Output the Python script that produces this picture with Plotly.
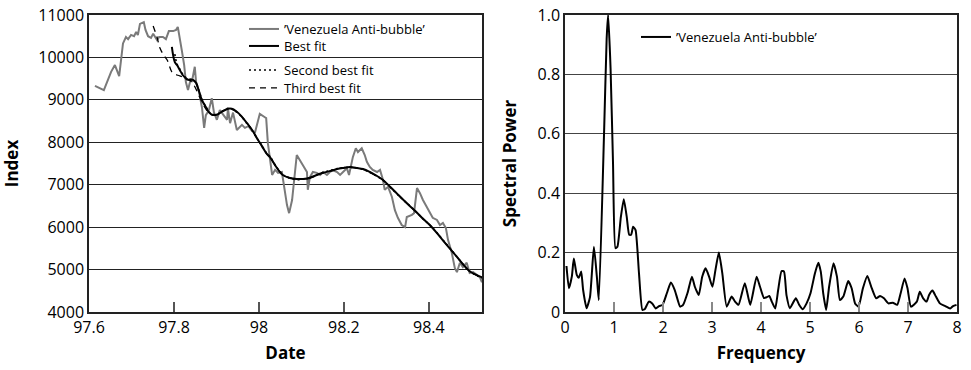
import plotly.graph_objects as go

# Venezuela index (left panel)
index_dates = [
    97.614, 97.635, 97.652, 97.661, 97.671, 97.680, 97.687, 97.692, 97.699, 97.706,
    97.711, 97.715, 97.720, 97.729, 97.733, 97.739, 97.746, 97.751, 97.760, 97.765,
    97.774, 97.781, 97.788, 97.798, 97.805, 97.809, 97.819, 97.824, 97.828, 97.833,
    97.840, 97.842, 97.849, 97.852, 97.859, 97.866, 97.871, 97.875, 97.882, 97.889,
    97.894, 97.901, 97.908, 97.925, 97.927, 97.932, 97.939, 97.948, 97.960, 97.967,
    97.975, 97.984, 97.991, 98.002, 98.014, 98.017, 98.021, 98.026, 98.031, 98.038,
    98.045, 98.054, 98.059, 98.066, 98.071, 98.078, 98.089, 98.096, 98.104, 98.113,
    98.115, 98.120, 98.127, 98.136, 98.144, 98.151, 98.160, 98.167, 98.174, 98.184,
    98.191, 98.198, 98.207, 98.212, 98.221, 98.228, 98.233, 98.242, 98.249, 98.254,
    98.261, 98.268, 98.278, 98.285, 98.292, 98.296, 98.304, 98.313, 98.320, 98.327,
    98.336, 98.344, 98.348, 98.360, 98.365, 98.372, 98.379, 98.386, 98.395, 98.402,
    98.409, 98.419, 98.426, 98.433, 98.440, 98.445, 98.454, 98.461, 98.466, 98.473,
    98.480, 98.489, 98.496, 98.504, 98.513, 98.520, 98.525,
]
index_values = [
    9330, 9230, 9660, 9820, 9560, 10330, 10480, 10430, 10530, 10500,
    10600, 10530, 10790, 10830, 10650, 10500, 10460, 10560, 10410, 10480,
    10480, 10430, 10620, 10620, 10650, 10720, 10130, 9820, 9420, 9230,
    9510, 9420, 9780, 9420, 9190, 8810, 8340, 8640, 8750, 9040,
    8710, 8530, 8760, 8530, 8800, 8450, 8700, 8290, 8410, 8340,
    8380, 8260, 8240, 8670, 8590, 8570, 7980, 7580, 7230, 7350,
    7280, 7300, 6950, 6520, 6330, 6640, 7700, 7580, 7420, 7300,
    6880, 7180, 7300, 7280, 7230, 7300, 7230, 7300, 7340, 7300,
    7230, 7300, 7390, 7230, 7650, 7860, 7770, 7860, 7700, 7540,
    7420, 7350, 7300, 7350, 7110, 6880, 6950, 6710, 6400, 6220,
    6050, 6000, 6240, 6290, 6330, 6920, 6800, 6640, 6480, 6330,
    6220, 6170, 6050, 6100, 5980, 5700, 5390, 5040, 4940, 5160,
    5060, 5160, 4920, 4940, 4870, 4820, 4700,
]

fit_dates = [
    97.795, 97.802, 97.807, 97.814, 97.821, 97.831, 97.838, 97.845, 97.852, 97.859,
    97.866, 97.875, 97.882, 97.889, 97.901, 97.913, 97.927, 97.936, 97.948, 97.960,
    97.972, 97.984, 97.995, 98.007, 98.019, 98.026, 98.042, 98.056, 98.073, 98.089,
    98.104, 98.120, 98.136, 98.151, 98.167, 98.184, 98.198, 98.214, 98.231, 98.245,
    98.261, 98.278, 98.292, 98.308, 98.325, 98.339, 98.355, 98.372, 98.386, 98.402,
    98.419, 98.433, 98.449, 98.466, 98.480, 98.496, 98.513, 98.527,
]
best_fit = [
    10250, 9890, 9820, 9700, 9580, 9480, 9470, 9470, 9400, 9200,
    8990, 8830, 8710, 8650, 8650, 8720, 8790, 8790, 8720, 8600,
    8450, 8290, 8100, 7910, 7720, 7650, 7400, 7230, 7160, 7135,
    7135, 7160, 7230, 7280, 7320, 7370, 7395, 7415, 7395, 7370,
    7300, 7205, 7110, 6960, 6790, 6650, 6500, 6340, 6200, 6050,
    5860, 5690, 5500, 5300, 5130, 4960, 4870, 4810,
]
second_dates = fit_dates[1:]
second_fit = [
    10080, 9850, 9720, 9600, 9500, 9480, 9460, 9390, 9210,
    9010, 8840, 8720, 8660, 8660, 8730, 8800, 8790, 8710, 8590,
    8440, 8280, 8100, 7920, 7730, 7660, 7410, 7240, 7150, 7120,
    7130, 7160, 7230, 7290, 7330, 7380, 7400, 7410, 7390, 7360,
    7290, 7200, 7100, 6950, 6780, 6650, 6500, 6340, 6200, 6050,
    5870, 5700, 5510, 5300, 5130, 4960, 4860, 4790,
]
third_dates = [
    97.751, 97.760, 97.767, 97.776, 97.784, 97.795, 97.802, 97.809, 97.826, 97.842,
    97.852, 97.861, 97.871, 97.880, 97.889, 97.901, 97.913, 97.927, 97.936, 97.948,
    97.960, 97.972, 97.984, 97.995, 98.007, 98.019, 98.026, 98.042, 98.056, 98.073,
    98.089, 98.104, 98.120, 98.136, 98.151, 98.167, 98.184, 98.198, 98.214, 98.231,
    98.245, 98.261, 98.278, 98.292, 98.308, 98.325, 98.339, 98.355, 98.372, 98.386,
    98.402, 98.419, 98.433, 98.449, 98.466, 98.480, 98.496, 98.513, 98.527,
]
third_fit = [
    10740, 10480, 10220, 10050, 9940, 9660, 9610, 9580, 9520, 9420,
    9250, 9050, 8850, 8720, 8660, 8660, 8730, 8790, 8780, 8710,
    8600, 8450, 8290, 8100, 7910, 7720, 7650, 7400, 7230, 7160,
    7140, 7140, 7170, 7230, 7280, 7320, 7370, 7400, 7410, 7390,
    7360, 7290, 7200, 7110, 6960, 6790, 6650, 6500, 6340, 6200,
    6050, 5860, 5690, 5500, 5300, 5130, 4960, 4860, 4790,
]

# Lomb spectrum (right panel)
freq = [
    0.03, 0.08, 0.14, 0.18, 0.24, 0.28, 0.33, 0.37, 0.44, 0.51,
    0.59, 0.65, 0.69, 0.80, 0.85, 0.88, 0.93, 0.98, 1.03, 1.07,
    1.14, 1.20, 1.26, 1.31, 1.35, 1.39, 1.44, 1.51, 1.58, 1.63,
    1.71, 1.78, 1.85, 1.92, 1.99, 2.08, 2.16, 2.24, 2.35, 2.41,
    2.50, 2.59, 2.65, 2.73, 2.80, 2.87, 2.94, 3.01, 3.07, 3.14,
    3.21, 3.30, 3.40, 3.47, 3.54, 3.67, 3.78, 3.91, 3.98, 4.06,
    4.12, 4.17, 4.22, 4.29, 4.35, 4.42, 4.47, 4.52, 4.59, 4.71,
    4.78, 4.85, 4.93, 5.01, 5.10, 5.17, 5.22, 5.27, 5.33, 5.39,
    5.48, 5.55, 5.61, 5.68, 5.78, 5.85, 5.92, 5.99, 6.08, 6.17,
    6.26, 6.35, 6.43, 6.51, 6.60, 6.69, 6.78, 6.85, 6.93, 6.99,
    7.06, 7.18, 7.24, 7.31, 7.38, 7.43, 7.50, 7.57, 7.65, 7.76,
    7.86, 7.92, 7.99,
]
power = [
    0.155, 0.08, 0.12, 0.18, 0.125, 0.115, 0.136, 0.074, 0.013, 0.05,
    0.22, 0.119, 0.04, 0.62, 0.92, 1.0, 0.82, 0.50, 0.215, 0.22,
    0.32, 0.38, 0.32, 0.26, 0.26, 0.287, 0.276, 0.13, 0.007, 0.01,
    0.035, 0.029, 0.012, 0.02, 0.024, 0.064, 0.099, 0.074, 0.018, 0.024,
    0.064, 0.119, 0.085, 0.057, 0.119, 0.147, 0.119, 0.085, 0.141, 0.20,
    0.131, 0.018, 0.052, 0.035, 0.024, 0.097, 0.024, 0.119, 0.085, 0.047,
    0.05, 0.054, 0.035, 0.012, 0.074, 0.138, 0.136, 0.057, 0.013, 0.046,
    0.024, 0.009, 0.029, 0.063, 0.13, 0.166, 0.136, 0.063, 0.007, 0.085,
    0.164, 0.119, 0.04, 0.052, 0.104, 0.08, 0.029, 0.018, 0.08, 0.121,
    0.08, 0.046, 0.054, 0.046, 0.029, 0.031, 0.024, 0.063, 0.113, 0.08,
    0.018, 0.035, 0.068, 0.046, 0.035, 0.057, 0.072, 0.052, 0.029, 0.02,
    0.012, 0.02, 0.024,
]

date_ticks = [97.6, 97.8, 98.0, 98.2, 98.4]
date_labels = ['97.6', '97.8', '98', '98.2', '98.4']
index_ticks = [4000, 5000, 6000, 7000, 8000, 9000, 10000, 11000]
index_labels = ['4000', '5000', '6000', '7000', '8000', '9000', '10000', '11000']
power_ticks = [0, 0.2, 0.4, 0.6, 0.8, 1.0]
power_labels = ['0', '0.2', '0.4', '0.6', '0.8', '1.0']
freq_ticks = [0, 1, 2, 3, 4, 5, 6, 7, 8]

FONT = 'Open Sans'
series_name = '\u2019Venezuela Anti-bubble\u2019'

W, H = 971, 370

fig = go.Figure()
fig.add_trace(go.Scatter(x=index_dates, y=index_values, mode='lines', name=series_name,
                         line=dict(color='#7a7a7a', width=2), legend='legend'))
fig.add_trace(go.Scatter(x=fit_dates, y=best_fit, mode='lines', name='Best fit',
                         line=dict(color='black', width=2, shape='spline'), legend='legend2'))
fig.add_trace(go.Scatter(x=second_dates, y=second_fit, mode='lines', name='Second best fit',
                         line=dict(color='black', width=1.6, dash='2px,3px', shape='spline'),
                         legend='legend3'))
fig.add_trace(go.Scatter(x=third_dates, y=third_fit, mode='lines', name='Third best fit',
                         line=dict(color='black', width=1.3, dash='6px,5px', shape='spline'),
                         legend='legend4'))
fig.add_trace(go.Scatter(x=freq, y=power, mode='lines', name=series_name,
                         line=dict(color='black', width=2, shape='spline', smoothing=0.5),
                         xaxis='x2', yaxis='y2', legend='legend5'))

axis_common = dict(showline=True, linecolor='#222222', linewidth=1.5, mirror=True,
                   zeroline=False, tickfont=dict(family=FONT, size=16, color='black'),
                   ticklabeloverflow='allow', automargin=False)
title_font = dict(family=FONT, size=17, color='black')


def legend_at(px, py):
    return dict(x=px / W, y=1 - py / H, xanchor='left', yanchor='middle',
                bgcolor='rgba(0,0,0,0)', font=dict(family=FONT, size=13, color='black'),
                itemwidth=30, borderwidth=0)


fig.update_layout(
    width=W, height=H,
    margin=dict(l=0, r=0, t=0, b=0),
    paper_bgcolor='white', plot_bgcolor='white',
    font=dict(family=FONT, color='black'),
    showlegend=True,
    xaxis=dict(domain=[89 / W, 482 / W], range=[97.6, 98.525], tickvals=date_ticks,
               ticktext=date_labels, ticks='inside', ticklen=10, tickwidth=1.5,
               tickcolor='#555555', showgrid=False,
               title=dict(text='<b>Date</b>', font=title_font, standoff=10),
               **axis_common),
    yaxis=dict(domain=[1 - 312 / H, 1 - 15 / H], range=[4000, 11000], tickvals=index_ticks,
               ticktext=index_labels, ticks='', showgrid=True, gridcolor='#222222',
               gridwidth=1.3,
               title=dict(text='<b>Index</b>', font=title_font, standoff=22),
               **axis_common),
    xaxis2=dict(domain=[565 / W, 957 / W], range=[0, 8], tickvals=freq_ticks, anchor='y2',
                ticks='inside', ticklen=10, tickwidth=1.5, tickcolor='#888888', showgrid=False,
                title=dict(text='<b>Frequency</b>', font=title_font, standoff=10),
                **axis_common),
    yaxis2=dict(domain=[1 - 312 / H, 1 - 15 / H], range=[0, 1.0], tickvals=power_ticks,
                ticktext=power_labels, anchor='x2', ticks='', showgrid=True,
                gridcolor='#444444', gridwidth=1.3,
                title=dict(text='<b>Spectral Power</b>', font=title_font, standoff=17),
                **axis_common),
    legend=legend_at(244, 29),
    legend2=legend_at(244, 46),
    legend3=legend_at(244, 70),
    legend4=legend_at(244, 88),
    legend5=legend_at(636, 37),
)

# drop the default 8px page margin so the figure fills the window exactly
fig.write_html("out.html", config={'displayModeBar': False},
               post_script="document.body.style.margin='0px';")
